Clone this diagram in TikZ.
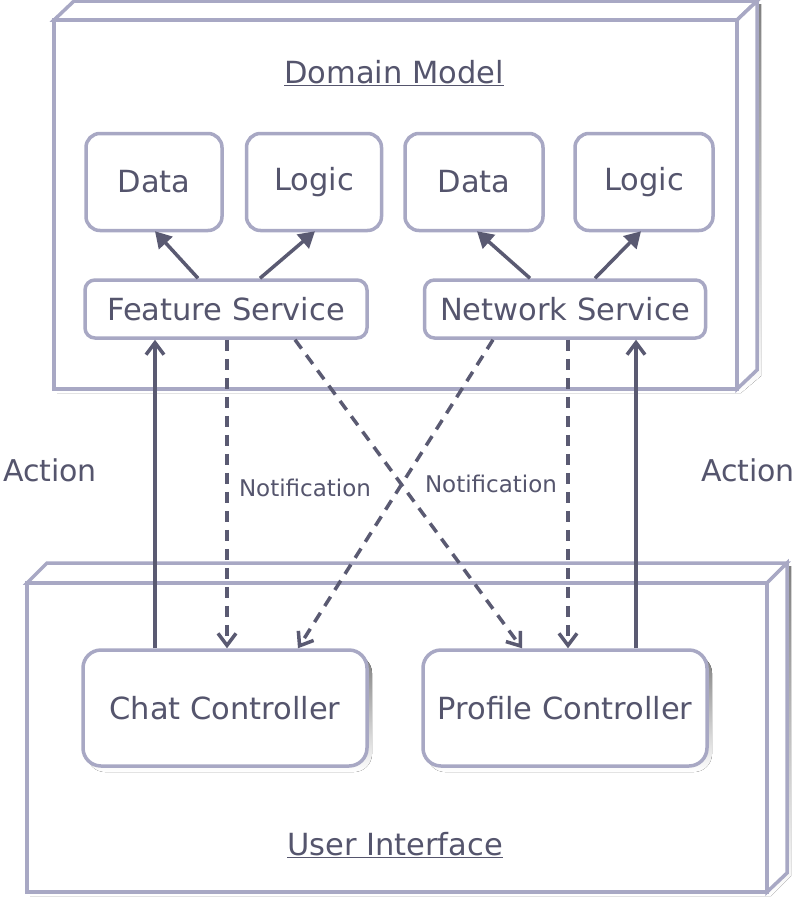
\documentclass[tikz,border=0pt]{standalone}
\usepackage{fontspec}
\setmainfont{DejaVu Sans}
\usetikzlibrary{arrows.meta}
\definecolor{boxline}{HTML}{A8A8C4}
\definecolor{txt}{HTML}{55556D}
\definecolor{arr}{HTML}{5A5A72}
\definecolor{shade}{HTML}{C2C2C2}
\tikzset{
  smallbox/.style={draw=boxline, line width=3.5pt, fill=white, rounded corners=14pt, text=txt, font=\fontsize{30.5}{35}\selectfont, inner sep=0pt},
  svcbox/.style={draw=boxline, line width=3.5pt, fill=white, rounded corners=10pt, text=txt, font=\fontsize{30.5}{35}\selectfont, inner sep=0pt, minimum height=58pt},
  ctrlbox/.style={draw=boxline, line width=3.5pt, fill=white, rounded corners=18pt, text=txt, font=\fontsize{30.5}{35}\selectfont, inner sep=0pt, minimum width=284pt, minimum height=116pt},
  title/.style={text=txt, font=\fontsize{30.5}{35}\selectfont, inner sep=0pt},
  lbl/.style={text=txt, font=\fontsize{30}{35}\selectfont, inner sep=0pt},
  nlbl/.style={text=txt, font=\fontsize{23}{27}\selectfont, inner sep=0pt},
  fillarrow/.style={draw=arr, line width=3.5pt, -{Triangle[length=16pt,width=18pt]}},
  action/.style={draw=arr, line width=3.5pt, -{Straight Barb[length=12pt,width=18pt,line width=3.5pt]}},
  notif/.style={draw=arr, line width=3.5pt, dash pattern=on 11pt off 8pt, -{Straight Barb[length=12pt,width=18pt,line width=3.5pt]}},
  solid3d/.style={draw=boxline, line width=3.5pt, fill=white, line join=miter},
}
\begin{document}
\begin{tikzpicture}[x=1pt,y=-1pt]
\useasboundingbox (0,0) rectangle (800,900);
% ---------- Domain Model 3D box ----------
\fill[shade] (57,23) -- (77,4) -- (761,4) -- (761,376) -- (741,393) -- (57,393) -- cycle;
\draw[solid3d] (54,20) -- (74,1) -- (757,1) -- (737,20) -- cycle;
\draw[solid3d] (737,20) -- (757,1) -- (757,370) -- (737,389) -- cycle;
\draw[solid3d] (54,20) rectangle (737,389);
% ---------- User Interface 3D box ----------
\fill[shade] (30,586) -- (50,566) -- (791,566) -- (791,876) -- (771,896) -- (30,896) -- cycle;
\draw[solid3d] (27,583) -- (47,563) -- (787,563) -- (767,583) -- cycle;
\draw[solid3d] (767,583) -- (787,563) -- (787,873) -- (767,892) -- cycle;
\draw[solid3d] (27,583) rectangle (767,892);
% ---------- titles ----------
\node[title] (dm) at (394,73) {\underline{Domain Model}};
\node[title] (ui) at (395,845) {\underline{User Interface}};
% ---------- top nodes ----------
\node[smallbox, minimum width=136pt, minimum height=97pt] (data1) at (154,182) {Data};
\node[smallbox, minimum width=135pt, minimum height=97pt] (logic1) at (314,182) {Logic};
\node[smallbox, minimum width=138pt, minimum height=97pt] (data2) at (474,182) {Data};
\node[smallbox, minimum width=138pt, minimum height=97pt] (logic2) at (644,182) {Logic};
\node[svcbox, minimum width=282pt] (feat) at (226,309) {Feature Service};
\node[svcbox, minimum width=281pt] (net) at (565,309) {Network Service};
% ---------- controllers ----------
\fill[shade, rounded corners=18pt] (87,655) rectangle (372,772);
\fill[shade, rounded corners=18pt] (427,655) rectangle (712,772);
\node[ctrlbox] (chat) at (225,708) {Chat Controller};
\node[ctrlbox] (prof) at (565,708) {Profile Controller};
% ---------- arrows to data/logic ----------
\draw[fillarrow] ([xshift=-28pt]feat.north) -- ([xshift=1pt,yshift=1pt]data1.south);
\draw[fillarrow] ([xshift=34pt]feat.north) -- ([xshift=1pt,yshift=1pt]logic1.south);
\draw[fillarrow] ([xshift=-35pt]net.north) -- ([xshift=3pt,yshift=1pt]data2.south);
\draw[fillarrow] ([xshift=30pt]net.north) -- ([xshift=-3pt,yshift=1pt]logic2.south);
% ---------- actions ----------
\draw[action] ([xshift=-70pt]chat.north) -- ([xshift=-71pt]feat.south);
\draw[action] ([xshift=71pt]prof.north) -- ([xshift=71pt]net.south);
% ---------- notifications ----------
\draw[notif] ([xshift=1pt]feat.south) -- ([xshift=2pt]chat.north);
\draw[notif] ([xshift=69pt]feat.south) -- ([xshift=-43pt]prof.north);
\draw[notif] ([xshift=-72pt]net.south) -- ([xshift=73pt]chat.north);
\draw[notif] ([xshift=3pt]net.south) -- ([xshift=3pt]prof.north);
% ---------- labels ----------
\node[lbl] (act1) at (50,470) {Action};
\node[lbl] (act2) at (748,470) {Action};
\node[nlbl] (n1) at (305,488) {Notification};
\node[nlbl] (n2) at (491,484) {Notification};
\end{tikzpicture}
\end{document}
